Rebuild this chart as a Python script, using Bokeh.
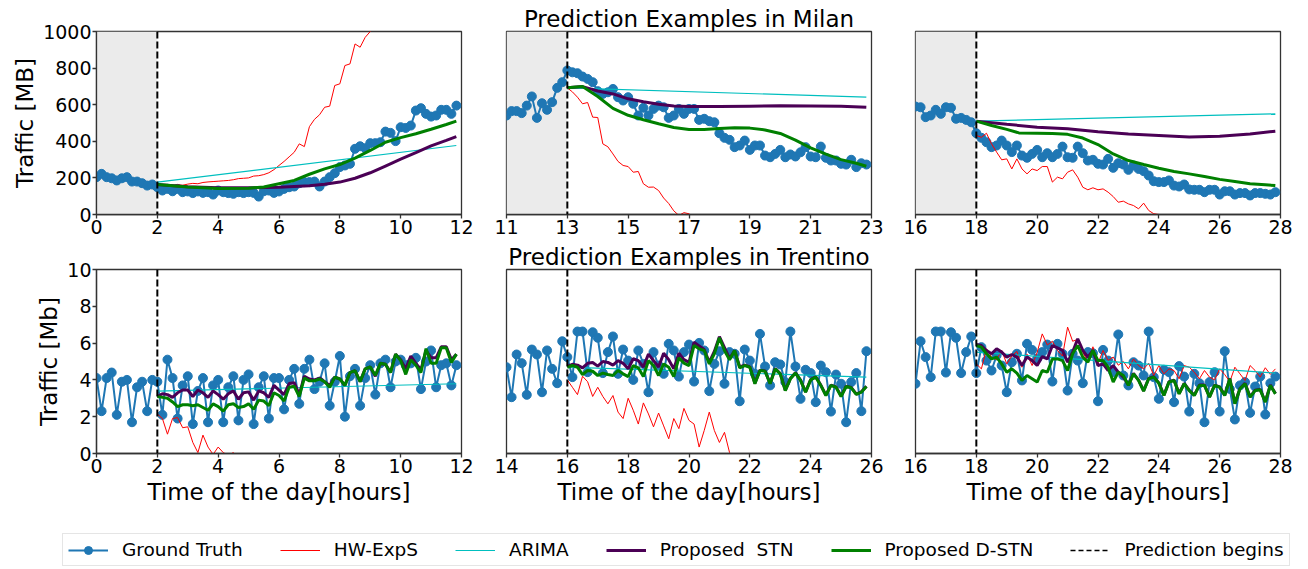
import numpy as np
from bokeh.plotting import figure
from bokeh.models import Range1d, FixedTicker, Span, BoxAnnotation, Legend, LegendItem
from bokeh.layouts import column, row
from bokeh.embed import file_html
from bokeh.resources import INLINE

FONT = "DejaVu Sans"
C_GT = "#1f77b4"
C_HW = "#ff0000"
C_AR = "#00bfbf"
C_STN = "#4b0055"
C_DSTN = "#008000"
SPINE = "#333333"

# ---------------- tick labels ----------------
XT_MILAN = [[0, 2, 4, 6, 8, 10, 12], [11, 13, 15, 17, 19, 21, 23], [16, 18, 20, 22, 24, 26, 28]]
XT_TREN = [[0, 2, 4, 6, 8, 10, 12], [14, 16, 18, 20, 22, 24, 26], [16, 18, 20, 22, 24, 26, 28]]
YT_MILAN = [0, 200, 400, 600, 800, 1000]
YT_TREN = [0, 2, 4, 6, 8, 10]
PRED_MILAN = [2, 13, 18]
PRED_TREN = [2, 16, 18]

# ---------------- Milan (10-min samples) ----------------
GT1 = [204, 222, 204, 198, 186, 198, 204, 180, 180, 171, 158, 164, 149, 131, 140, 127, 140, 122, 126, 117,
       126, 118, 122, 109, 131, 122, 117, 113, 122, 117, 122, 118, 98, 127, 131, 118, 126, 140, 149, 153,
       171, 177, 177, 180, 153, 180, 204, 226, 259, 268, 277, 359, 373, 362, 390, 390, 395, 453, 446, 401,
       477, 473, 486, 568, 581, 550, 535, 541, 572, 572, 550, 595]
HW1 = [158, 160, 163, 158, 162, 160, 166, 170, 168, 175, 178, 180, 182, 184, 186, 190, 196, 198, 200, 210,
       212, 218, 228, 245, 268, 290, 315, 340, 386, 371, 480, 520, 545, 586, 592, 705, 714, 814, 823, 932,
       914, 968, 1000, 1040]
AR1_X = [2, 11.83]
AR1 = [177, 377]
STN1_X = [2, 3, 4, 5, 6, 7, 7.5, 8, 8.5, 9, 9.5, 10, 10.5, 11, 11.5, 11.83]
STN1 = [164, 152, 146, 146, 149, 157, 165, 177, 198, 228, 265, 302, 338, 375, 405, 426]
DSTN1_X = [2, 3, 4, 5, 5.5, 6, 6.5, 7, 7.5, 8, 8.5, 9, 9.5, 10, 10.5, 11, 11.5, 11.83]
DSTN1 = [164, 150, 142, 144, 150, 168, 186, 220, 249, 273, 308, 350, 395, 420, 441, 466, 492, 510]

GT2 = [541, 565, 565, 554, 595, 645, 528, 608, 572, 614, 692, 723, 787, 777, 772, 754, 741, 723, 674, 659,
       668, 686, 641, 623, 641, 605, 541, 583, 541, 577, 595, 586, 528, 541, 577, 550, 577, 577, 517, 523,
       510, 504, 444, 419, 408, 368, 377, 404, 353, 377, 377, 322, 313, 331, 353, 313, 328, 317, 340, 368,
       317, 313, 371, 310, 295, 295, 277, 273, 299, 259, 280, 273]
HW2 = [692, 670, 641, 605, 612, 532, 530, 386, 370, 331, 290, 268, 262, 231, 235, 168, 149, 150, 131, 90,
       60, 20, -5, 10, 4, -20]
AR2_X = [13, 22.83]
AR2 = [692, 641]
STN2_X = [13, 13.5, 14, 14.5, 15, 15.5, 16, 16.5, 17, 18, 19, 20, 21, 22, 22.83]
STN2 = [692, 699, 675, 659, 632, 616, 603, 593, 590, 590, 592, 594, 593, 592, 586]
DSTN2_X = [13, 13.5, 14, 14.5, 15, 15.5, 16, 16.5, 17, 17.5, 18, 18.5, 19, 19.5, 20, 20.5, 21, 21.5, 22, 22.5, 22.83]
DSTN2 = [692, 699, 645, 580, 542, 518, 496, 475, 465, 465, 470, 474, 472, 462, 443, 406, 364, 330, 300, 280, 264]

GT3 = [590, 586, 532, 541, 572, 550, 586, 583, 523, 528, 517, 504, 444, 419, 395, 368, 377, 404, 377, 341,
       377, 322, 310, 331, 353, 313, 335, 313, 331, 371, 313, 310, 371, 335, 295, 299, 277, 273, 304, 255,
       280, 273, 244, 268, 249, 237, 213, 182, 177, 177, 186, 158, 153, 164, 137, 135, 135, 122, 135, 135,
       109, 127, 127, 109, 117, 117, 104, 117, 117, 113, 109, 122]
HW3 = [432, 422, 444, 386, 341, 299, 304, 249, 304, 249, 222, 249, 240, 262, 262, 177, 204, 195, 231, 244,
       204, 149, 135, 146, 135, 140, 122, 98, 67, 73, 58, 49, 31, 62, 22, 4, 0, -20]
AR3_X = [18, 27.83]
AR3 = [510, 550]
STN3_X = [18, 19, 20, 21, 22, 23, 24, 25, 26, 27, 27.83]
STN3 = [510, 493, 477, 468, 452, 440, 432, 424, 428, 440, 455]
DSTN3_X = [18, 18.5, 19, 19.4, 20, 20.5, 21, 21.5, 22, 22.5, 23, 23.5, 24, 24.5, 25, 25.5, 26, 26.5, 27, 27.5, 27.83]
DSTN3 = [510, 486, 465, 446, 444, 442, 438, 418, 382, 331, 295, 273, 253, 235, 222, 208, 192, 180, 168, 162, 158]

# ---------------- Trentino (10-min samples) ----------------
GT4 = [4.1, 2.3, 4.1, 4.4, 2.1, 3.9, 4.0, 1.7, 3.6, 3.9, 2.3, 4.0, 3.9, 2.1, 5.1, 4.1, 1.9, 3.7, 4.2, 1.6,
       3.4, 4.1, 1.7, 3.7, 4.0, 1.7, 3.6, 4.2, 1.8, 4.0, 4.3, 1.6, 3.6, 4.2, 1.9, 4.1, 4.1, 2.4, 4.0, 4.6,
       2.7, 4.6, 5.1, 3.5, 3.9, 4.9, 2.6, 3.9, 5.3, 2.0, 4.2, 4.6, 2.6, 4.1, 4.8, 3.2, 4.9, 5.1, 3.6, 5.0,
       5.1, 4.8, 4.9, 5.2, 3.5, 5.0, 5.6, 3.6, 4.8, 4.9, 3.7, 4.8]
HW4 = [2.15, 1.9, 1.05, 1.9, 1.95, 1.4, 1.45, 0.6, 0.05, 1.0, 0.35, -0.05, 0.35, 0.05, -0.1, 0.05, -0.5, -0.8]
AR4_X = [2, 11.83]
AR4 = [3.39, 3.79]
STN4 = [3.10, 3.25, 3.20, 3.05, 3.30, 3.45, 3.45, 3.10, 3.45, 3.30, 3.05, 3.40, 3.20, 2.95, 3.25, 3.40, 2.95, 3.30, 3.35, 2.90,
        3.40, 3.30, 3.05, 3.70, 3.45, 3.20, 3.80, 3.85, 3.20, 4.20, 4.05, 4.00, 4.10, 3.90, 3.70, 4.15, 4.05, 3.70, 4.40, 4.50,
        3.90, 4.60, 4.70, 4.20, 4.90, 4.85, 4.40, 5.40, 5.10, 4.60, 5.30, 4.90, 4.55, 5.60, 5.20, 5.20, 5.80, 5.80, 5.10, 5.40]
DSTN4 = [3.10, 3.05, 3.00, 2.80, 2.55, 2.65, 2.65, 2.60, 2.65, 2.50, 2.35, 2.70, 2.55, 2.30, 2.65, 2.70, 2.50, 2.55, 2.70, 2.40,
         2.90, 2.85, 2.60, 3.30, 3.15, 2.85, 3.60, 3.65, 3.10, 4.10, 3.95, 3.95, 4.05, 3.90, 3.60, 4.15, 4.05, 3.70, 4.40, 4.50,
         3.90, 4.60, 4.70, 4.25, 4.90, 4.85, 4.40, 5.40, 5.05, 4.30, 5.10, 4.80, 4.40, 5.70, 4.90, 4.90, 5.75, 5.75, 4.95, 5.40]

GT5 = [4.69, 3.06, 5.38, 4.91, 3.19, 5.65, 5.38, 3.33, 5.6, 4.6, 3.82, 6.1, 5.24, 4.15, 6.63, 6.63, 4.42, 6.59, 6.29, 4.37,
       5.51, 6.36, 4.33, 5.65, 5.05, 4.0, 5.6, 4.87, 3.33, 5.51, 4.78, 4.33, 5.96, 5.6, 4.18, 5.51, 5.92, 3.91, 6.01, 5.6,
       3.39, 4.87, 5.56, 3.79, 5.51, 5.42, 2.84, 5.65, 5.05, 4.33, 6.5, 4.73, 3.7, 4.96, 4.84, 3.88, 6.63, 4.73, 2.97, 4.55,
       4.37, 2.79, 4.78, 4.42, 2.28, 4.29, 3.79, 1.70, 3.88, 4.37, 2.30, 5.56]
HW5 = [4.0, 3.6, 3.2, 4.2, 3.9, 3.1, 3.6, 3.1, 2.7, 3.15, 2.25, 1.9, 3.0, 2.35, 1.6, 2.75, 2.15, 1.45, 2.2, 1.5,
       0.8, 1.9, 1.35, 2.45, 1.8, 1.6, 0.35, 1.25, 2.25, 1.25, 0.6, 1.15, 0.05, -0.2, -0.6]
AR5_X = [16, 25.83]
AR5 = [4.69, 4.15]
STN5 = [4.73, 4.85, 4.80, 4.65, 4.90, 4.95, 4.75, 5.00, 4.95, 4.80, 5.05, 4.90, 4.60, 5.15, 5.05, 4.70, 5.40, 5.05, 4.70, 5.45,
        5.10, 4.60, 5.45, 5.10, 4.95, 6.05, 5.85, 5.65, 4.95, 5.55, 6.35, 5.75, 5.15, 5.60, 4.70, 4.80, 4.72, 3.82, 4.53, 4.49,
        3.81, 4.62, 4.35, 3.44, 4.08, 4.39, 3.99, 3.35, 4.02, 4.17, 3.72, 3.17, 3.72, 3.62, 3.12, 3.66, 3.59, 3.23, 3.35, 3.66]
DSTN5 = [4.69, 4.78, 4.69, 4.29, 4.51, 4.47, 4.24, 4.37, 4.29, 4.24, 4.51, 4.33, 4.18, 4.78, 4.66, 4.18, 5.05, 4.78, 4.24, 4.87,
         4.69, 4.18, 5.20, 4.91, 4.78, 5.87, 5.69, 5.60, 4.87, 5.42, 6.29, 5.60, 5.09, 5.60, 4.66, 4.78, 4.69, 3.79, 4.51, 4.47,
         3.79, 4.60, 4.33, 3.42, 4.06, 4.37, 3.97, 3.33, 4.00, 4.15, 3.70, 3.15, 3.70, 3.60, 3.10, 3.64, 3.57, 3.21, 3.33, 3.64]

GT6 = [3.79, 6.1, 5.24, 4.15, 6.63, 6.63, 4.4, 6.59, 6.29, 4.37, 5.51, 6.36, 4.37, 5.78, 5.05, 4.51, 5.33, 4.78, 3.33, 4.96,
       5.42, 3.97, 5.96, 5.63, 5.15, 5.51, 5.92, 3.91, 5.96, 5.42, 3.42, 5.42, 5.05, 3.82, 5.51, 5.45, 2.84, 5.63, 5.05, 4.42,
       6.47, 4.24, 3.7, 4.96, 4.78, 4.24, 6.63, 4.15, 2.97, 4.55, 4.42, 2.79, 4.75, 4.18, 2.28, 4.33, 3.82, 1.70, 3.88, 4.42,
       2.28, 5.56, 3.51, 1.85, 3.70, 3.88, 2.21, 3.64, 4.18, 2.12, 3.82, 4.18]
HW6 = [4.87, 4.6, 5.69, 5.24, 5.1, 5.6, 4.87, 5.3, 5.55, 4.69, 5.4, 4.78, 5.5, 6.5, 5.9, 6.1, 5.6, 5.3, 6.87, 6.1,
       6.2, 5.5, 5.0, 5.8, 4.9, 5.6, 5.05, 5.24, 4.8, 5.0, 4.6, 5.14, 4.78, 4.6, 4.9, 4.24, 4.78, 4.33, 4.6, 4.51,
       4.06, 4.78, 4.69, 4.42, 4.06, 4.51, 4.15, 4.0, 4.6, 4.29, 3.9, 4.69, 4.33, 3.97, 4.78, 4.51, 4.15, 4.66, 4.3, 4.6]
AR6_X = [18, 27.83]
AR6 = [5.51, 4.37]
STN6 = [5.92, 5.87, 5.60, 5.42, 5.69, 5.51, 5.24, 5.38, 5.24, 4.78, 5.24, 5.05, 4.78, 5.27, 5.14, 5.87, 5.74, 5.60, 4.96, 5.51,
        6.23, 5.60, 5.24, 5.60, 4.78, 4.87, 4.51, 4.78, 4.42, 4.15, 3.72, 4.35, 3.99, 3.41, 4.08, 4.17, 3.84, 3.17, 3.90, 3.99,
        3.26, 3.81, 3.44, 3.17, 3.72, 3.72, 3.08, 3.72, 3.62, 3.17, 4.08, 2.72, 3.53, 3.81, 3.08, 3.44, 3.48, 2.81, 3.72, 3.26]
DSTN6 = [5.87, 5.78, 5.42, 5.14, 5.24, 4.87, 4.42, 4.60, 4.37, 3.97, 4.24, 4.06, 3.88, 4.51, 4.42, 5.14, 5.14, 5.05, 4.51, 5.42,
         5.87, 5.24, 4.96, 5.60, 5.05, 5.05, 4.69, 3.88, 4.42, 4.24, 3.70, 4.33, 3.97, 3.39, 4.06, 4.15, 3.82, 3.15, 3.88, 3.97,
         3.24, 3.79, 3.42, 3.15, 3.70, 3.70, 3.06, 3.70, 3.60, 3.15, 4.06, 2.70, 3.51, 3.79, 3.06, 3.42, 3.46, 2.79, 3.70, 3.24]

LEGEND_LABELS = ["Ground Truth", "HW-ExpS", "ARIMA", "Proposed  STN", "Proposed D-STN", "Prediction begins"]


def tgrid(start, values):
    return start + np.arange(len(values)) / 6.0


def style_axis(ax):
    ax.major_label_text_font = FONT
    ax.major_label_text_font_size = "19px"
    ax.major_label_text_color = "black"
    ax.axis_label_text_font = FONT
    ax.axis_label_text_font_size = "23px"
    ax.axis_label_text_font_style = "normal"
    ax.axis_label_text_color = "black"
    ax.axis_line_color = SPINE
    ax.axis_line_width = 1.3
    ax.major_tick_line_color = SPINE
    ax.major_tick_line_width = 1.3
    ax.minor_tick_line_color = None
    ax.major_tick_in = 0
    ax.major_tick_out = 4
    ax.major_label_standoff = 1


def panel(xt, yt, l, r, t, b, fh, ylabel=None, xlabel=None, title=None):
    p = figure(frame_width=365, frame_height=fh, x_range=Range1d(xt[0], xt[-1]), y_range=Range1d(yt[0], yt[-1]),
               output_backend="svg", toolbar_location=None,
               min_border_left=l, min_border_right=r, min_border_top=t, min_border_bottom=b)
    p.xgrid.visible = False
    p.ygrid.visible = False
    p.outline_line_color = SPINE
    p.outline_line_width = 1.3
    p.background_fill_color = "white"
    p.border_fill_color = "white"
    style_axis(p.xaxis[0])
    style_axis(p.yaxis[0])
    p.xaxis[0].ticker = FixedTicker(ticks=xt)
    p.yaxis[0].ticker = FixedTicker(ticks=yt)
    if ylabel is None:
        p.yaxis.visible = False
    else:
        p.yaxis[0].axis_label = ylabel
        p.yaxis[0].axis_label_standoff = 2
    if xlabel is not None:
        p.xaxis[0].axis_label = xlabel
        p.xaxis[0].axis_label_standoff = 3
    if title is not None:
        p.title.text = title
        p.title.align = "center"
        p.title.text_font = FONT
        p.title.text_font_size = "23px"
        p.title.text_font_style = "normal"
        p.title.text_color = "black"
        p.title.standoff = 0
        p.title.offset = 0
    return p


def draw(p, gt_start, gt, pred, hw, ar_x, ar, stn_x, stn, dstn_x, dstn, shade_from=None):
    if shade_from is not None:
        p.add_layout(BoxAnnotation(left=shade_from, right=pred, fill_color="#ebebeb", fill_alpha=1.0,
                                   line_color=None, level="underlay"))
    gx = tgrid(gt_start, gt)
    p.line(gx, gt, color=C_GT, line_width=2)
    p.scatter(gx, gt, color=C_GT, size=9)
    p.line(tgrid(pred, hw), hw, color=C_HW, line_width=1)
    p.line(ar_x, ar, color=C_AR, line_width=1.2)
    p.line(stn_x, stn, color=C_STN, line_width=3)
    p.line(dstn_x, dstn, color=C_DSTN, line_width=3)
    p.add_layout(Span(location=pred, dimension="height", line_color="black", line_width=2, line_dash="7 3"))


# Row 1 (Milan)
T1, FH1, B1 = 31, 183, 27
f1 = panel(XT_MILAN[0], YT_MILAN, 96, 22, T1, B1, FH1, ylabel="Traffic [MB]")
f2 = panel(XT_MILAN[1], YT_MILAN, 23, 22, T1, B1, FH1, title="Prediction Examples in Milan")
f3 = panel(XT_MILAN[2], YT_MILAN, 22, 24, T1, B1, FH1)
draw(f1, XT_MILAN[0][0], GT1, PRED_MILAN[0], HW1, AR1_X, AR1, STN1_X, STN1, DSTN1_X, DSTN1, shade_from=XT_MILAN[0][0])
draw(f2, XT_MILAN[1][0], GT2, PRED_MILAN[1], HW2, AR2_X, AR2, STN2_X, STN2, DSTN2_X, DSTN2, shade_from=XT_MILAN[1][0])
draw(f3, XT_MILAN[2][0], GT3, PRED_MILAN[2], HW3, AR3_X, AR3, STN3_X, STN3, DSTN3_X, DSTN3, shade_from=XT_MILAN[2][0])

# Row 2 (Trentino)
T2, FH2, B2 = 28, 184, 58
f4 = panel(XT_TREN[0], YT_TREN, 96, 22, T2, B2, FH2, ylabel="Traffic [Mb]", xlabel="Time of the day[hours]")
f5 = panel(XT_TREN[1], YT_TREN, 23, 22, T2, B2, FH2, xlabel="Time of the day[hours]",
           title="Prediction Examples in Trentino")
f6 = panel(XT_TREN[2], YT_TREN, 22, 24, T2, B2, FH2, xlabel="Time of the day[hours]")
for fig, k in ((f4, 0), (f5, 1), (f6, 2)):
    gt = (GT4, GT5, GT6)[k]
    hw = (HW4, HW5, HW6)[k]
    arx, ar = ((AR4_X, AR4), (AR5_X, AR5), (AR6_X, AR6))[k]
    stn = (STN4, STN5, STN6)[k]
    dstn = (DSTN4, DSTN5, DSTN6)[k]
    pr = PRED_TREN[k]
    draw(fig, XT_TREN[k][0], gt, pr, hw, arx, ar, tgrid(pr, stn), stn, tgrid(pr, dstn), dstn)

# Legend strip (renderers hold the Milan series but are hidden; only their legend glyphs show)
leg = figure(width=1304, height=56, output_backend="svg", toolbar_location=None,
             x_range=Range1d(0, 12), y_range=Range1d(0, 1000), min_border=0)
leg.axis.visible = False
leg.xgrid.visible = False
leg.ygrid.visible = False
leg.outline_line_color = None
gx1 = tgrid(0, GT1)
r_gl = leg.line(gx1, GT1, color=C_GT, line_width=2, visible=False)
r_gs = leg.scatter(gx1, GT1, color=C_GT, size=7, visible=False)
r_hw = leg.line(tgrid(2, HW1), HW1, color=C_HW, line_width=1, visible=False)
r_ar = leg.line(AR1_X, AR1, color=C_AR, line_width=1.2, visible=False)
r_st = leg.line(STN1_X, STN1, color=C_STN, line_width=3, visible=False)
r_ds = leg.line(DSTN1_X, DSTN1, color=C_DSTN, line_width=3, visible=False)
r_pb = leg.line(AR1_X, AR1, color="black", line_width=1.5, line_dash="5 3", visible=False)
groups = [[r_gl, r_gs], [r_hw], [r_ar], [r_st], [r_ds], [r_pb]]
legend = Legend(items=[LegendItem(label=lab, renderers=rs) for lab, rs in zip(LEGEND_LABELS, groups)],
                orientation="horizontal", location=(62, 1))
legend.label_text_font = FONT
legend.label_text_font_size = "18.5px"
legend.label_text_color = "black"
legend.glyph_width = 40
legend.label_standoff = 14
legend.spacing = 37
legend.padding = 5
legend.margin = 0
legend.border_line_color = "#cccccc"
legend.border_line_width = 1
legend.background_fill_color = "white"
legend.inactive_fill_alpha = 0.0
leg.add_layout(legend, "center")

layout = column(row(f1, f2, f3), row(f4, f5, f6), leg)
open("out.html", "w").write(file_html(layout, INLINE))
